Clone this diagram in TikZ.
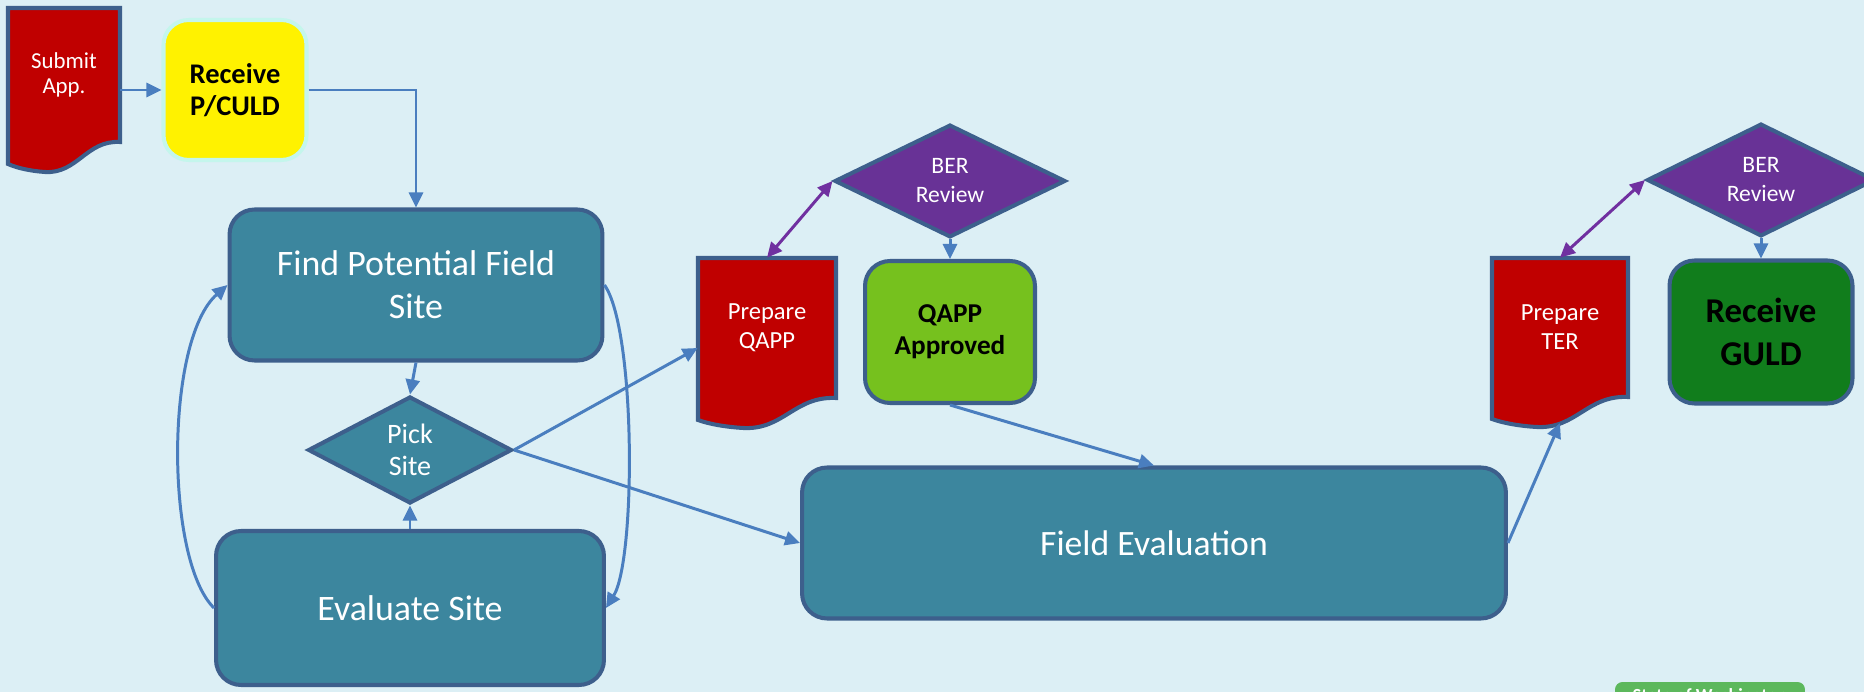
\documentclass[tikz,border=0pt]{standalone}
\usepackage{fontspec}
\setmainfont{Carlito}
\usetikzlibrary{arrows.meta}
\usetikzlibrary{shapes.geometric}
\usetikzlibrary{positioning}
\definecolor{mback}{RGB}{220,239,245}
\definecolor{mteal}{RGB}{60,134,158}
\definecolor{medge}{RGB}{61,95,140}
\definecolor{mline}{RGB}{74,126,191}
\definecolor{mdocred}{RGB}{192,0,0}
\definecolor{mpurple}{RGB}{104,50,150}
\definecolor{mviolet}{RGB}{112,48,160}
\definecolor{mlime}{RGB}{118,193,30}
\definecolor{mforest}{RGB}{17,125,28}
\definecolor{mmint}{RGB}{196,246,236}
\definecolor{mbadge}{RGB}{92,184,92}
\tikzset{flow/.style = {draw=mline, line width=1.7pt,
                        -{Triangle[length=0.3cm, width=0.28cm]}}}
\tikzset{twoway/.style = {draw=mviolet, line width=1.7pt,
                          {Triangle[length=0.3cm, width=0.28cm]}-{Triangle[length=0.3cm, width=0.28cm]}}}
\tikzset{procbox/.style = {draw=medge, line width=2.3pt, fill=mteal, rounded corners=0.5cm,
                           text=white, align=center}}
\tikzset{decision/.style = {diamond, draw=medge, line width=2.3pt, inner sep=0pt,
                            text=white, align=center}}
\tikzset{docline/.style = {draw=medge, line width=2.3pt, fill=mdocred}}
\tikzset{doctext/.style = {text=white, align=center, inner sep=0pt}}
\newcommand{\docnode}[7]{%
  \begin{scope}[shift={(#1,#2)}]
    \draw[docline] (0,0) -- (#3,0) -- (#3,#4)
      .. controls ({0.7*#3},{#4-2}) and ({0.62*#3},{#4+32}) .. ({0.33*#3},{#4+30})
      .. controls ({0.2*#3},{#4+29}) and ({0.08*#3},{#4+26}) .. (0,{#4+22}) -- cycle;
    \node[doctext, minimum width=#3*0.02cm, minimum height=#4*0.02cm, #6] (#5) at ({#3/2},{#4/2}) {#7};
    \coordinate (#5-b) at ({0.5*#3},{#4+26});
  \end{scope}}

\begin{document}
\begin{tikzpicture}[x=0.02cm, y=-0.02cm]
      \useasboundingbox (0,0) rectangle (1864,692);
      \fill [mback] (0,0) rectangle (1864,692);
      \docnode{8}{8}{112}{134}{submit}{font=\fontsize{13}{14.5}\selectfont}{Submit\\App.}
      \docnode{698}{258}{138}{140}{qappdoc}{font=\fontsize{14}{16.5}\selectfont}{Prepare\\QAPP}
      \docnode{1492}{258}{136}{139}{terdoc}{font=\fontsize{14}{16.5}\selectfont}{Prepare\\TER}
      \node [procbox, fill=yellow, draw=mmint, text=black, minimum width=2.86cm, minimum height=2.8cm,
             font=\bfseries\fontsize{16.2}{18.4}\selectfont] (receive) at (235,90) {Receive\\P/CULD};
      \node [procbox, minimum width=7.46cm, minimum height=3.02cm,
             font=\fontsize{20.4}{24.6}\selectfont] (find) at (416,285) {Find Potential Field\\Site};
      \node [decision, fill=mteal, minimum width=4.08cm, minimum height=2.14cm,
             font=\fontsize{16}{18.5}\selectfont] (pick) at (410,450) {Pick\\Site};
      \node [procbox, minimum width=7.76cm, minimum height=3.08cm,
             font=\fontsize{20.4}{24.4}\selectfont] (evaluate) at (410,608) {Evaluate Site};
      \node [decision, fill=mpurple, minimum width=4.62cm, minimum height=1.48cm,
             font=\fontsize{13.4}{16.5}\selectfont] (ber1) at (950,181) {BER\\Review};
      \node [procbox, fill=mlime, text=black, minimum width=3.4cm, minimum height=2.84cm,
             font=\bfseries\fontsize{15.5}{18.2}\selectfont] (qappok) at (950,332) {QAPP\\Approved};
      \node [procbox, minimum width=14.08cm, minimum height=3.02cm,
             font=\fontsize{20.3}{22}\selectfont] (field) at (1154,543) {Field Evaluation};
      \node [decision, fill=mpurple, minimum width=4.56cm, minimum height=1.48cm,
             font=\fontsize{13.4}{16.5}\selectfont] (ber2) at (1761,180) {BER\\Review};
      \node [procbox, fill=mforest, text=black, minimum width=3.66cm, minimum height=2.86cm,
             font=\bfseries\fontsize{19.8}{24.3}\selectfont] (guld) at (1761,332) {Receive\\GULD};
      \node [fill=mbadge, rounded corners=0.15cm, text=white, minimum width=3.8cm, minimum height=0.6cm,
             font=\bfseries\fontsize{10.5}{12}\selectfont] (badge) at (1710,697) {State of Washington};
      \draw [flow] (submit.east |- receive.west) -- (receive.west);
      \draw [flow] (receive.east) -| (find.north);
      \draw [flow] (find.south) -- (pick.north);
      \draw [flow] (evaluate.north) -- (pick.south);
      \draw [flow] (evaluate.west) .. controls (165,560) and (165,340) .. (find.west);
      \draw [flow] (find.east) .. controls (636,330) and (636,560) .. (evaluate.east);
      \draw [flow] (pick.east) -- ([yshift=-0.4cm]qappdoc.west);
      \draw [flow] (pick.east) -- (field.west);
      \draw [twoway] (ber1.west) -- (qappdoc.north);
      \draw [flow] (ber1.south) -- (qappok.north);
      \draw [flow] (qappok.south) -- (field.north);
      \draw [flow] (field.east) -- (terdoc-b);
      \draw [twoway] (ber2.west) -- (terdoc.north);
      \draw [flow] (ber2.south) -- (guld.north);
\end{tikzpicture}
\end{document}
